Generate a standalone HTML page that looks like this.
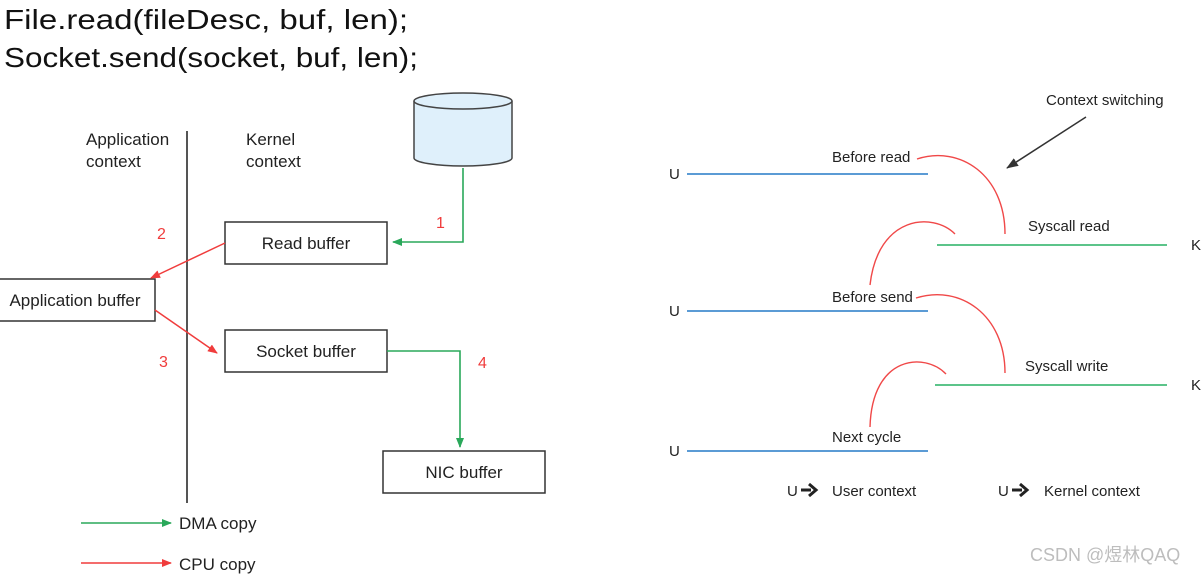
<!DOCTYPE html>
<html><head><meta charset="utf-8"><style>
html,body{margin:0;padding:0;background:#fff;}
svg{display:block;}
text{font-family:"Liberation Sans",Arial,sans-serif;fill:#222;}
text.red{fill:#f03c3c;}
</style></head><body>
<svg width="1204" height="574" viewBox="0 0 1204 574" xmlns="http://www.w3.org/2000/svg">
<defs>
<marker id="g" markerWidth="10" markerHeight="8" refX="9" refY="4" orient="auto" markerUnits="userSpaceOnUse"><path d="M0,0 L10,4 L0,8 Z" fill="#2aa85a"/></marker>
<marker id="r" markerWidth="10" markerHeight="8" refX="9" refY="4" orient="auto" markerUnits="userSpaceOnUse"><path d="M0,0 L10,4 L0,8 Z" fill="#f03c3c"/></marker>
<marker id="k" markerWidth="12" markerHeight="9" refX="11" refY="4.5" orient="auto" markerUnits="userSpaceOnUse"><path d="M0,0 L12,4.5 L0,9 Z" fill="#333"/></marker>
</defs>
<text x="4" y="29" font-size="28" style="fill:#111" textLength="404" lengthAdjust="spacingAndGlyphs">File.read(fileDesc, buf, len);</text>
<text x="4" y="67" font-size="28" style="fill:#111" textLength="414" lengthAdjust="spacingAndGlyphs">Socket.send(socket, buf, len);</text>

<path d="M414,101 L414,158 A49,8 0 0 0 512,158 L512,101" fill="#dff0fb" stroke="#444" stroke-width="1.5"/>
<ellipse cx="463" cy="101" rx="49" ry="8" fill="#dff0fb" stroke="#444" stroke-width="1.5"/>

<line x1="187" y1="131" x2="187" y2="503" stroke="#555" stroke-width="2"/>
<text x="86" y="145" font-size="17">Application</text>
<text x="86" y="167" font-size="17">context</text>
<text x="246" y="145" font-size="17">Kernel</text>
<text x="246" y="167" font-size="17">context</text>

<g fill="#fff" stroke="#333" stroke-width="1.5">
<rect x="225" y="222" width="162" height="42"/>
<rect x="-2" y="279" width="157" height="42"/>
<rect x="225" y="330" width="162" height="42"/>
<rect x="383" y="451" width="162" height="42"/>
</g>
<text x="306" y="249" font-size="17" text-anchor="middle">Read buffer</text>
<text x="75" y="306" font-size="17" text-anchor="middle">Application buffer</text>
<text x="306" y="357" font-size="17" text-anchor="middle">Socket buffer</text>
<text x="464" y="478" font-size="17" text-anchor="middle">NIC buffer</text>

<polyline points="463,168 463,242 393,242" fill="none" stroke="#2aa85a" stroke-width="1.6" marker-end="url(#g)"/>
<line x1="225" y1="243" x2="151" y2="278" stroke="#f03c3c" stroke-width="1.5" marker-end="url(#r)"/>
<line x1="155" y1="310" x2="217" y2="353" stroke="#f03c3c" stroke-width="1.5" marker-end="url(#r)"/>
<polyline points="387,351 460,351 460,447" fill="none" stroke="#2aa85a" stroke-width="1.6" marker-end="url(#g)"/>
<text class="red" x="436" y="228" font-size="16">1</text>
<text class="red" x="157" y="239" font-size="16">2</text>
<text class="red" x="159" y="367" font-size="16">3</text>
<text class="red" x="478" y="368" font-size="16">4</text>

<line x1="81" y1="523" x2="171" y2="523" stroke="#2aa85a" stroke-width="1.5" marker-end="url(#g)"/>
<text x="179" y="529" font-size="17">DMA copy</text>
<line x1="81" y1="563" x2="171" y2="563" stroke="#f03c3c" stroke-width="1.5" marker-end="url(#r)"/>
<text x="179" y="570" font-size="17">CPU copy</text>

<g font-size="15">
<text x="669" y="179">U</text>
<text x="669" y="316">U</text>
<text x="669" y="456">U</text>
<text x="1191" y="250">K</text>
<text x="1191" y="390">K</text>
<text x="1046" y="105">Context switching</text>
<text x="832" y="162">Before read</text>
<text x="1028" y="231">Syscall read</text>
<text x="832" y="302">Before send</text>
<text x="1025" y="371">Syscall write</text>
<text x="832" y="442">Next cycle</text>
<text x="787" y="496">U</text>
<text x="832" y="496">User context</text>
<text x="998" y="496">U</text>
<text x="1044" y="496">Kernel context</text>
</g>
<text x="1030" y="561" font-size="18" style="fill:#bdbdbd;font-family:'Liberation Sans','Noto Sans CJK SC',sans-serif">CSDN @煜林QAQ</text>
<path d="M801,490 h10 M809,484 l7,6 l-7,6" stroke="#222" stroke-width="3" fill="none"/>
<path d="M1012,490 h10 M1020,484 l7,6 l-7,6" stroke="#222" stroke-width="3" fill="none"/>

<g stroke="#5b9bd5" stroke-width="2">
<line x1="687" y1="174" x2="928" y2="174"/>
<line x1="687" y1="311" x2="928" y2="311"/>
<line x1="687" y1="451" x2="928" y2="451"/>
</g>
<g stroke="#5cc48a" stroke-width="2">
<line x1="937" y1="245" x2="1167" y2="245"/>
<line x1="935" y1="385" x2="1167" y2="385"/>
</g>
<g stroke="#f04848" stroke-width="1.4" fill="none">
<path d="M917,159 C960,145 1005,175 1005,234"/>
<path d="M947,234 C925,212 870,215 862,285" transform="translate(8,0)"/>
<path d="M916,298 C960,284 1005,315 1005,373"/>
<path d="M946,374 C925,352 872,355 870,427"/>
</g>
<line x1="1086" y1="117" x2="1007" y2="168" stroke="#333" stroke-width="1.5" marker-end="url(#k)"/>
</svg>
</body></html>
